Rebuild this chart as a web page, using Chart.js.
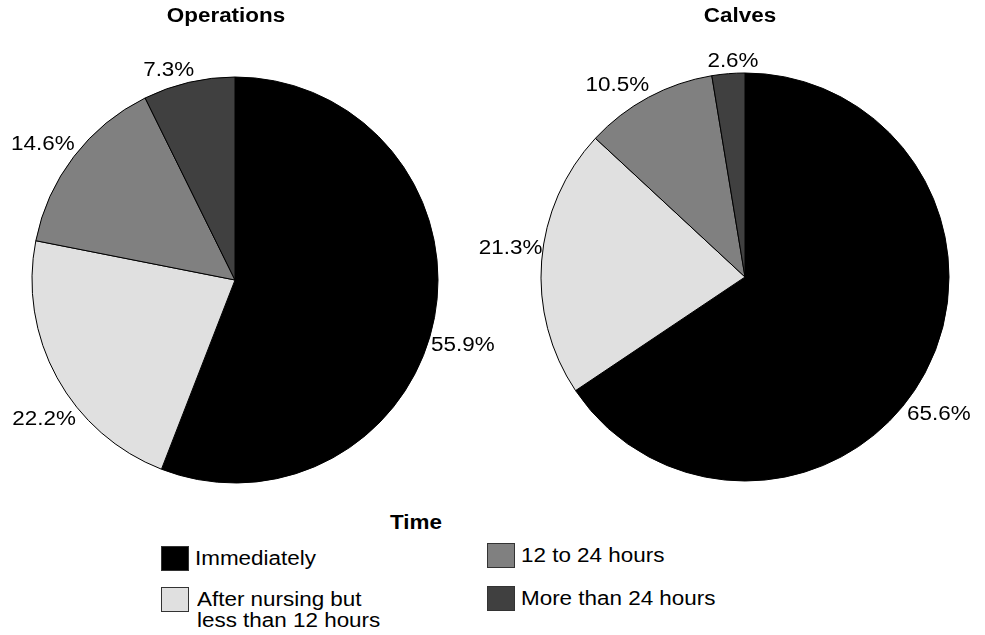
<!DOCTYPE html>
<html>
<head>
<meta charset="utf-8">
<script src="https://cdn.jsdelivr.net/npm/chart.js@4.4.0/dist/chart.umd.min.js"></script>
<style>
  body { margin: 0; background: #fff; font-family: "Liberation Sans", Arial, sans-serif; }
  #wrap { position: relative; width: 985px; height: 635px; overflow: hidden; }
  .box { position: absolute; }
  .legTitle { position: absolute; left: 416px; top: 522px; font-weight: bold; font-size: 19.5px;
              transform: translate(-50%, -50%) scaleX(1.15); white-space: nowrap; }
  .item { position: absolute; display: flex; align-items: flex-start; }
  .sw { width: 28px; height: 25px; border: 1px solid #333; box-sizing: border-box; }
  .txt { font-size: 19.5px; line-height: 21px; transform: scaleX(1.15); transform-origin: left top;
         white-space: nowrap; }
</style>
</head>
<body>
<div id="wrap">
  <div class="box" style="left:0;top:0;width:520px;height:500px;"><canvas id="ops"></canvas></div>
  <div class="box" style="left:455px;top:0;width:530px;height:500px;"><canvas id="calves"></canvas></div>
  <div class="legTitle">Time</div>
  <div id="legend"></div>
</div>
<script>
const categories = ['Immediately', 'After nursing but\nless than 12 hours', '12 to 24 hours', 'More than 24 hours'];
const operations = [55.9, 22.2, 14.6, 7.3];
const calves = [65.6, 21.3, 10.5, 2.6];
const colors = ['#000000', '#e0e0e0', '#808080', '#404040'];

const SX = 1.15; // the source text is drawn a little wide
const FONT = '19.5px "Liberation Sans", Arial, sans-serif';

function wideText(ctx, text, x, y, align, font) {
  ctx.save();
  ctx.font = font;
  ctx.fillStyle = '#000';
  ctx.textBaseline = 'middle';
  ctx.textAlign = align;
  ctx.translate(x, y);
  ctx.scale(SX, 1);
  ctx.fillText(text, 0, 0);
  ctx.restore();
}

// title and outside-end percent labels
const pieText = {
  id: 'pieText',
  afterDatasetsDraw(chart, args, opts) {
    const ctx = chart.ctx;
    wideText(ctx, opts.title, opts.titleX, 17, 'center', 'bold ' + FONT);
    const meta = chart.getDatasetMeta(0);
    const vals = chart.data.datasets[0].data;
    meta.data.forEach((arc, i) => {
      const mid = (arc.startAngle + arc.endAngle) / 2;
      const dx = Math.cos(mid), dy = Math.sin(mid);
      const label = vals[i].toFixed(1) + '%';
      // point on the rim, then push the label box out like the office chart does
      const px = arc.x + dx * arc.outerRadius;
      const py = arc.y + dy * arc.outerRadius;
      let ox = 31 * dx / Math.max(Math.abs(dx), 0.35);
      let oy = -12;
      if (dy > 0) {
        ox *= (1 - 2.5 * dy * dy);
        oy = 20 + 45 * dy;
      } else {
        ox += 20 * Math.max(0, 1 - Math.abs(dx) / 0.2);
      }
      wideText(ctx, label, px + ox, py + oy, 'center', FONT);
    });
  }
};

function makePie(id, values, radius, padding, title, titleX) {
  return new Chart(document.getElementById(id), {
    type: 'pie',
    data: {
      labels: categories,
      datasets: [{
        data: values,
        backgroundColor: colors,
        borderColor: '#000',
        borderWidth: 1
      }]
    },
    options: {
      responsive: true,
      maintainAspectRatio: false,
      animation: false,
      radius: radius,
      layout: { padding: padding },
      plugins: {
        legend: { display: false },
        tooltip: { enabled: false },
        pieText: { title: title, titleX: titleX }
      }
    },
    plugins: [pieText]
  });
}

makePie('ops', operations, 203, { left: 0, right: 50, top: 60, bottom: 0 }, 'Operations', 226);
makePie('calves', calves, 204, { left: 50, right: 0, top: 54, bottom: 0 }, 'Calves', 285);

// legend, two columns
const legendSpots = [
  { left: 161, top: 546 },
  { left: 161, top: 587 },
  { left: 487, top: 543 },
  { left: 487, top: 586 }
];
const legend = document.getElementById('legend');
categories.forEach((name, i) => {
  const item = document.createElement('div');
  item.className = 'item';
  item.style.left = legendSpots[i].left + 'px';
  item.style.top = legendSpots[i].top + 'px';
  const sw = document.createElement('div');
  sw.className = 'sw';
  sw.style.background = colors[i];
  const txt = document.createElement('div');
  txt.className = 'txt';
  txt.style.marginLeft = (i === 1 ? 8 : 6) + 'px';
  txt.style.marginTop = '2px';
  txt.innerHTML = name.split('\n').join('<br>');
  item.appendChild(sw);
  item.appendChild(txt);
  legend.appendChild(item);
});
</script>
</body>
</html>
